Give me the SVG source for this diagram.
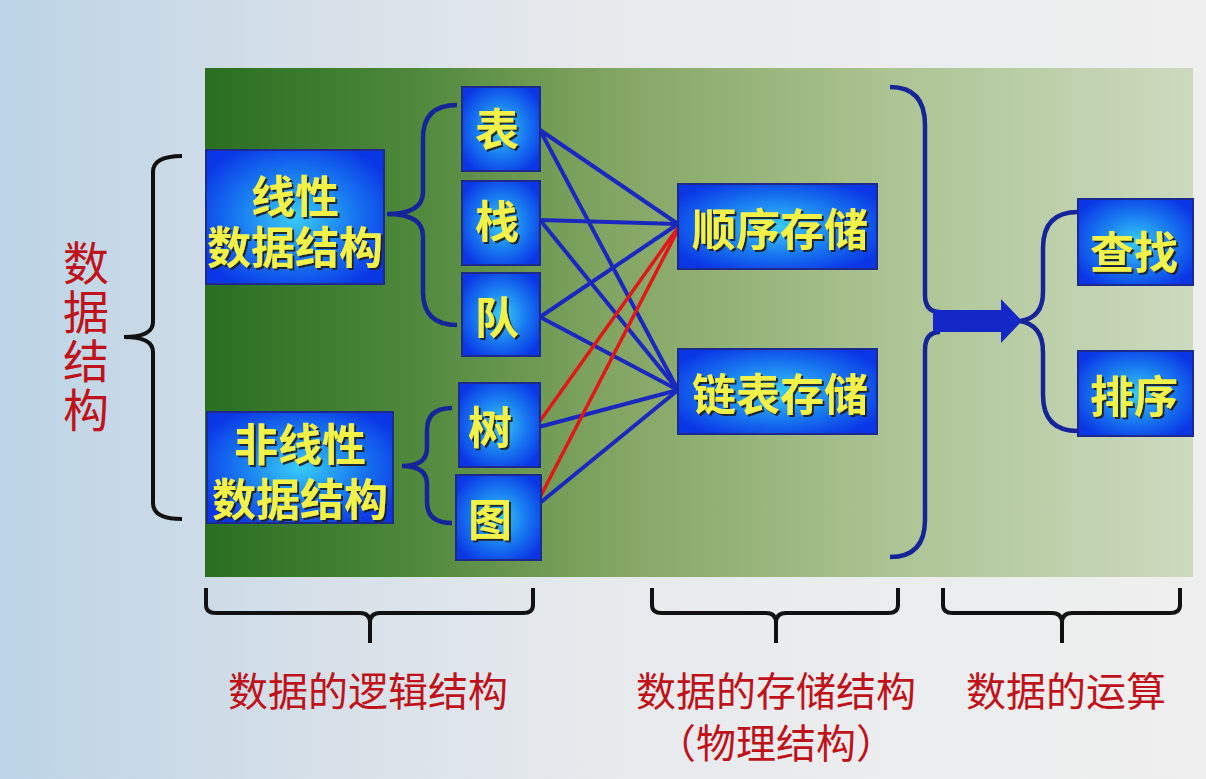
<svg xmlns="http://www.w3.org/2000/svg" width="1206" height="779" viewBox="0 0 1206 779">
<defs>
<linearGradient id="bg" x1="0" y1="0" x2="1" y2="0">
<stop offset="0" stop-color="#bcd4e6"/>
<stop offset="0.25" stop-color="#d5dfe8"/>
<stop offset="0.5" stop-color="#e7eaed"/>
<stop offset="1" stop-color="#efefef"/>
</linearGradient>
<linearGradient id="panel" x1="0" y1="0" x2="1" y2="0">
<stop offset="0" stop-color="#2a6e22"/>
<stop offset="0.2" stop-color="#4c873a"/>
<stop offset="0.42" stop-color="#84a664"/>
<stop offset="0.7" stop-color="#adc494"/>
<stop offset="1" stop-color="#ccdabf"/>
</linearGradient>
<radialGradient id="boxg" cx="0.5" cy="0.5" r="0.6">
<stop offset="0" stop-color="#38ccf8"/>
<stop offset="0.55" stop-color="#1878f0"/>
<stop offset="1" stop-color="#0a36e6"/>
</radialGradient>
<filter id="sh" x="-20%" y="-20%" width="140%" height="140%">
<feDropShadow dx="2" dy="2" stdDeviation="0.6" flood-color="#1a1a1a" flood-opacity="0.9"/>
</filter>
</defs>
<style>
.box{fill:url(#boxg);stroke:#1c2a8c;stroke-width:2}
.bt{font-family:"Liberation Sans","Noto Sans CJK SC",sans-serif;font-weight:bold;font-size:44px;fill:#f2f24a;text-anchor:middle;filter:url(#sh)}
.rt{font-family:"Liberation Sans","Noto Sans CJK SC",sans-serif;font-size:40px;fill:#c0121a;text-anchor:middle}
.bl{fill:none;stroke:#1a28c0;stroke-width:4}
.rd{fill:none;stroke:#e01818;stroke-width:3.5}
.br{fill:none;stroke:#16249a;stroke-width:4.5}
.kb{fill:none;stroke:#111;stroke-width:4}
</style>
<rect x="0" y="0" width="1206" height="779" fill="url(#bg)"/>
<rect x="205" y="68" width="988" height="509" fill="url(#panel)"/>

<g id="connectors">
<line class="bl" x1="540" y1="130" x2="678" y2="224"/>
<line class="bl" x1="540" y1="130" x2="678" y2="390"/>
<line class="bl" x1="540" y1="220" x2="678" y2="224"/>
<line class="bl" x1="540" y1="220" x2="678" y2="390"/>
<line class="bl" x1="540" y1="317" x2="678" y2="224"/>
<line class="bl" x1="540" y1="317" x2="678" y2="390"/>
<line class="bl" x1="535" y1="428" x2="678" y2="390"/>
<line class="bl" x1="535" y1="507" x2="678" y2="390"/>
<line class="rd" x1="535" y1="428" x2="682" y2="222"/>
<line class="rd" x1="535" y1="507" x2="682" y2="222"/>
<path class="br" d="M457,105 Q423,105 423,138 L423,192 Q423,214 387,214 Q423,214 423,236 L423,292 Q423,325 457,325"/>
<path class="br" d="M452,408 Q427,408 427,430 L427,448 Q427,466 402,466 Q427,466 427,484 L427,502 Q427,523 452,523"/>
<path class="br" d="M890,87 Q925,87 925,125 L925,295 Q925,312 940,312"/>
<path class="br" d="M940,332 Q925,332 925,350 L925,520 Q925,557 890,557"/>
<path fill="#1428c8" d="M933,310 L1001,310 L1001,299 L1022,321 L1001,343 L1001,332 L933,332 Z"/>
<path class="br" d="M1078,212 Q1043,212 1043,248 L1043,292 Q1043,318 1020,321 Q1043,325 1043,352 L1043,395 Q1043,431 1078,431"/>
<path class="kb" d="M182,156 Q153,156 153,172 L153,322 Q153,337 124,337 Q153,337 153,352 L153,503 Q153,519 182,519"/>
<path class="kb" d="M206,588 L206,605 Q206,613 216,613 L360,613 Q370,613 370,623 L370,643 M370,623 Q370,613 380,613 L523,613 Q533,613 533,605 L533,588"/>
<path class="kb" d="M652,588 L652,605 Q652,613 662,613 L766,613 Q776,613 776,623 L776,643 M776,623 Q776,613 786,613 L888,613 Q898,613 898,605 L898,588"/>
<path class="kb" d="M943,588 L943,605 Q943,613 953,613 L1052,613 Q1062,613 1062,623 L1062,643 M1062,623 Q1062,613 1072,613 L1170,613 Q1180,613 1180,605 L1180,588"/>
</g>

<g id="n-linear"><rect class="box" x="206" y="150" width="178" height="134"/><text class="bt"><tspan x="295" y="213">线性</tspan><tspan x="295" y="264">数据结构</tspan></text></g>
<g id="n-nonlinear"><rect class="box" x="207" y="412" width="186" height="111"/><text class="bt"><tspan x="300" y="461">非线性</tspan><tspan x="300" y="516">数据结构</tspan></text></g>
<g id="n-biao"><rect class="box" x="462" y="87" width="78" height="84"/><text class="bt" x="497" y="146">表</text></g>
<g id="n-zhan"><rect class="box" x="462" y="181" width="78" height="84"/><text class="bt" x="497" y="238">栈</text></g>
<g id="n-dui"><rect class="box" x="462" y="273" width="78" height="83"/><text class="bt" x="497" y="334">队</text></g>
<g id="n-shu"><rect class="box" x="459" y="383" width="81" height="84"/><text class="bt" x="490" y="444">树</text></g>
<g id="n-tu"><rect class="box" x="456" y="475" width="85" height="85"/><text class="bt" x="490" y="536">图</text></g>
<g id="n-seq"><rect class="box" x="678" y="184" width="199" height="85"/><text class="bt" x="780" y="246">顺序存储</text></g>
<g id="n-link"><rect class="box" x="678" y="349" width="199" height="85"/><text class="bt" x="780" y="411">链表存储</text></g>
<g id="n-search"><rect class="box" x="1078" y="199" width="115" height="86"/><text class="bt" x="1134" y="269">查找</text></g>
<g id="n-sort"><rect class="box" x="1078" y="351" width="115" height="85"/><text class="bt" x="1134" y="413">排序</text></g>

<g id="labels">
<text class="rt" style="font-family:'Noto Sans CJK SC',sans-serif;font-size:46px;writing-mode:vertical-rl;text-anchor:start;letter-spacing:3px" x="86" y="240">数据结构</text>
<text class="rt" x="368" y="706">数据的逻辑结构</text>
<text class="rt"><tspan x="776" y="706">数据的存储结构</tspan><tspan x="776" y="758">（物理结构）</tspan></text>
<text class="rt" x="1066" y="706">数据的运算</text>
</g>
</svg>
